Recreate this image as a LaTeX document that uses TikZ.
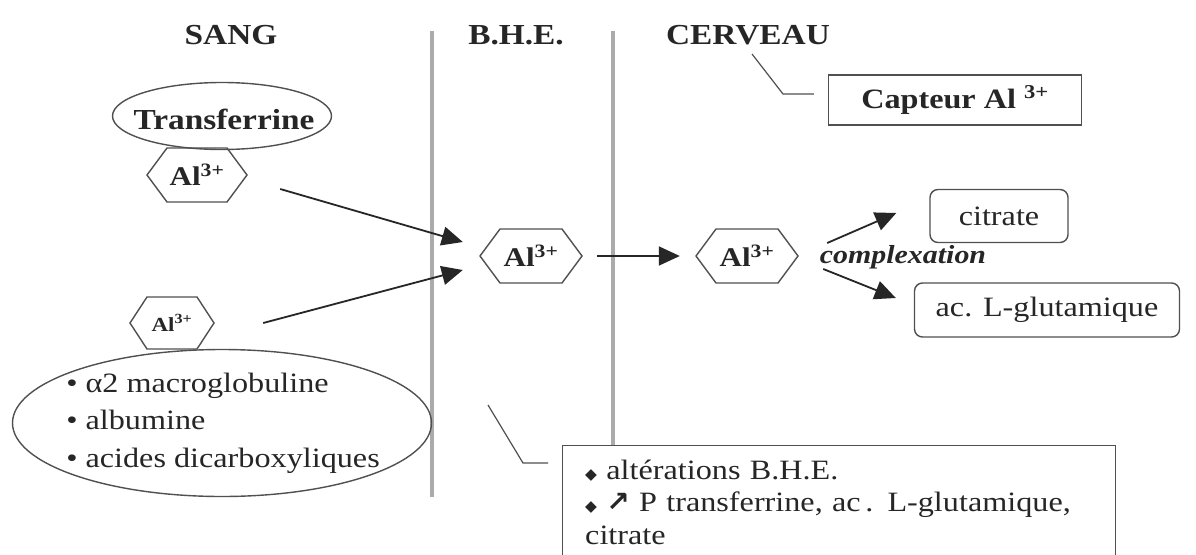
\documentclass[tikz,border=0pt]{standalone}
\usepackage{fontspec}
\setmainfont[FakeStretch=1.15]{Liberation Serif}
\newfontfamily\symfont[FakeStretch=1.0]{DejaVu Sans}
\usetikzlibrary{arrows.meta,shapes.geometric,calc}
\definecolor{ink}{HTML}{262626}
\definecolor{edge}{HTML}{505050}
\definecolor{wall}{HTML}{ABABAB}
\tikzset{
  heading/.style={font=\fontsize{29}{33}\selectfont\bfseries, text=ink},
  wallline/.style={draw=wall, line width=3.2pt},
  shapeline/.style={draw=edge, line width=1.4pt},
  hexlabel/.style={font=\fontsize{27}{30}\selectfont\bfseries, text=ink, inner sep=0pt},
  arr/.style={draw=ink, line width=1.8pt, -{Triangle[length=21pt,width=19pt]}},
  calloutline/.style={draw=edge, line width=1.2pt},
  roundbox/.style={shapeline, rounded corners=8pt, inner sep=0pt, text=ink, font=\fontsize{28}{32}\selectfont},
  squarebox/.style={shapeline, inner sep=0pt, text=ink},
  ovalbox/.style={shapeline, ellipse, inner sep=0pt},
  plaintext/.style={inner sep=0pt, text=ink},
}
\newcommand\drawhex[4]{%
  \draw[shapeline] ($(#1.center)+(-#2,0)$) -- ($(#1.center)+(-#2+#4,-#3)$)
    -- ($(#1.center)+(#2-#4,-#3)$) -- ($(#1.center)+(#2,0)$)
    -- ($(#1.center)+(#2-#4,#3)$) -- ($(#1.center)+(-#2+#4,#3)$) -- cycle;}
\begin{document}
\begin{tikzpicture}[x={(1pt,0)}, y={(0,-1pt)}]
\useasboundingbox (0,0) rectangle (1196,554);
\clip (0,0) rectangle (1196,554);
\fill[white] (0,0) rectangle (1196,554);

% headings
\node[heading] (sang) at (231,35) {SANG};
\node[heading] (bhe) at (516,35) {B.H.E.};
\node[heading] (cerveau) at (748,35) {CERVEAU};

% walls
\draw[wallline] (432,31) -- (432,497);
\draw[wallline] (613,31) -- (613,445);

% blood side
\node[ovalbox, minimum width=219pt, minimum height=67pt] (tf) at (222,116) {};
\node[plaintext, font=\fontsize{29}{33}\selectfont\bfseries] (tftxt) at (224,119) {Transferrine};
\node[hexlabel, minimum width=100pt, minimum height=54pt] (h1) at (197,175) {Al\textsuperscript{3+}};
\drawhex{h1}{50}{27}{20}

\node[hexlabel, minimum width=84pt, minimum height=52pt,
      font=\fontsize{20}{22}\selectfont\bfseries] (h2) at (172,323) {Al\textsuperscript{3+}};
\drawhex{h2}{42}{26}{17}

\node[ovalbox, minimum width=419pt, minimum height=147pt] (car) at (222,423) {};
\node[plaintext, align=left, font=\fontsize{28}{37.5}\selectfont] (cartxt) at (223,423)
  {• α2 macroglobuline\\• albumine\\• acides dicarboxyliques};

% barrier
\node[hexlabel, minimum width=102pt, minimum height=54pt] (hb) at (531,256) {Al\textsuperscript{3+}};
\drawhex{hb}{51}{27}{20}

% brain
\node[hexlabel, minimum width=102pt, minimum height=54pt] (hc) at (747,256) {Al\textsuperscript{3+}};
\drawhex{hc}{51}{27}{20}

\node[plaintext, font=\fontsize{26}{30}\selectfont\bfseries\itshape] (cx) at (903,257) {complexation};

\node[roundbox, minimum width=138pt, minimum height=53pt] (cit) at (999,216) {citrate};
\node[roundbox, minimum width=265pt, minimum height=54pt] (glu) at (1047,310) {ac. L-glutamique};

\node[squarebox, minimum width=253pt, minimum height=50pt,
      font=\fontsize{28}{32}\selectfont\bfseries] (cap) at (955,100) {Capteur Al \textsuperscript{3+}};

% note box
\node[squarebox, anchor=north west, minimum width=553pt, minimum height=150pt] (note) at (562,445) {};
\node[anchor=base west, text width=520pt, align=left, inner sep=0pt, text=ink,
      font=\fontsize{28}{32.5}\selectfont] (notetxt) at (585,479)
  {{\symfont\scalebox{0.55}{◆}} altérations B.H.E.\\
   {\symfont\scalebox{0.55}{◆}} {\symfont\bfseries ↗} P transferrine, ac\,. L-glutamique,\\
   citrate};

% arrows
\draw[arr] ($(h1.east)+(33,14)$) -- ($(hb.west)+(-17,-14)$);
\draw[arr] ($(h2.east)+(49,0)$) -- ($(hb.west)+(-17,14)$);
\draw[arr] ($(hb.east)+(15,0)$) -- ($(hc.west)+(-16,0)$);
\draw[arr] ($(hc.east)+(29,-13)$) -- ($(cit.west)+(-33,-3)$);
\draw[arr] ($(hc.east)+(25,13)$) -- ($(glu.west)+(-18,-12)$);

% callouts
\coordinate (c1) at (752,54);
\draw[calloutline] (c1) -- (783,94) -- ($(cap.west)+(-14,-6)$);
\coordinate (c2) at (488,405);
\draw[calloutline] (c2) -- (523,463) -- ($(note.north west)+(-14,18)$);
\end{tikzpicture}
\end{document}
